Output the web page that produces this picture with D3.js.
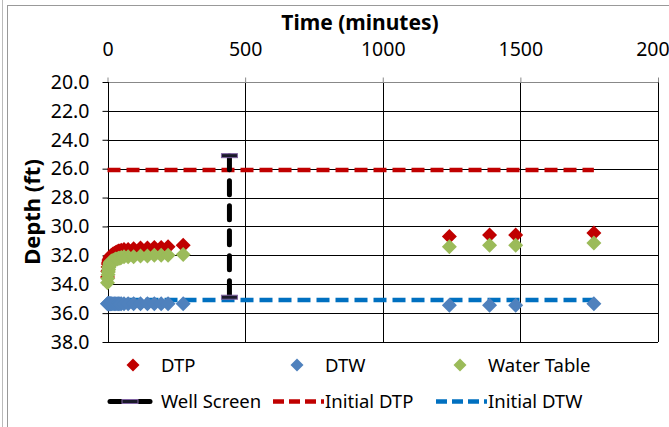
<!DOCTYPE html>
<html>
<head>
<meta charset="utf-8">
<script src="https://cdn.jsdelivr.net/npm/d3@7"></script>
<style>
  body { margin: 0; background: #fff; }
  text { font-family: "Noto Sans", sans-serif; fill: #000; }
</style>
</head>
<body>
<div id="chart"></div>
<script>
// early bail-down readings (minutes)
const earlyTimes = [0, 1, 2, 3, 4, 5, 6, 8, 10, 12, 15, 20, 25, 30, 35, 40, 45, 50, 60, 75, 95, 120, 145, 170, 195, 220, 275];
const earlyDTP = [33.5, 33.1, 32.8, 32.6, 32.5, 32.4, 32.3, 32.2, 32.1, 32.05, 32.0, 31.9, 31.85, 31.8, 31.75, 31.7, 31.7, 31.65, 31.6, 31.6, 31.55, 31.5, 31.5, 31.45, 31.45, 31.4, 31.3];
const earlyWT = [33.9, 33.6, 33.35, 33.15, 33.0, 32.85, 32.75, 32.6, 32.5, 32.45, 32.4, 32.35, 32.3, 32.25, 32.25, 32.2, 32.2, 32.15, 32.1, 32.1, 32.1, 32.05, 32.05, 32.0, 32.0, 32.0, 31.95];
const earlyDTW = [35.35, 35.35, 35.35, 35.35, 35.35, 35.35, 35.35, 35.35, 35.35, 35.35, 35.35, 35.35, 35.35, 35.35, 35.35, 35.35, 35.35, 35.35, 35.35, 35.35, 35.35, 35.35, 35.35, 35.35, 35.35, 35.35, 35.35];

// later readings
const lateTimes = [1242, 1388, 1483, 1767];
const lateDTP = [30.7, 30.6, 30.6, 30.45];
const lateWT = [31.4, 31.3, 31.3, 31.15];
const lateDTW = [35.45, 35.45, 35.45, 35.35];

const initialDTP = 26.1;
const initialDTW = 35.1;
const lineEnd = 1767;
const wellScreenTime = 443;
const wellScreen = [25.1, 34.9];

const xTicks = [0, 500, 1000, 1500, 2000];
const yTicks = [20, 22, 24, 26, 28, 30, 32, 34, 36, 38];

const times = earlyTimes.concat(lateTimes);
const dtp = earlyDTP.concat(lateDTP);
const wt = earlyWT.concat(lateWT);
const dtw = earlyDTW.concat(lateDTW);

const width = 669, height = 427;
const svg = d3.select("#chart").append("svg")
  .attr("width", width)
  .attr("height", height);

// outer chart border
svg.append("line").attr("x1", 2.5).attr("x2", 2.5).attr("y1", 0).attr("y2", height)
  .attr("stroke", "#bbb");
svg.append("rect").attr("x", 7.5).attr("y", 5.5).attr("width", 700).attr("height", 460)
  .attr("fill", "none").attr("stroke", "#999");

const x = d3.scaleLinear().domain([0, 2000]).range([107.5, 658]);
const y = d3.scaleLinear().domain([20, 38]).range([82, 342]);

// horizontal gridlines
svg.append("g")
  .selectAll("line")
  .data(yTicks.filter((d) => d > 20))
  .enter()
  .append("line")
  .attr("x1", x(0)).attr("x2", x(2000))
  .attr("y1", (d) => Math.round(y(d)) + 0.5)
  .attr("y2", (d) => Math.round(y(d)) + 0.5)
  .attr("stroke", "#000");

// vertical gridlines
svg.append("g")
  .selectAll("line")
  .data(xTicks.filter((d) => d > 0))
  .enter()
  .append("line")
  .attr("x1", (d) => Math.round(x(d)) + 0.5)
  .attr("x2", (d) => Math.round(x(d)) + 0.5)
  .attr("y1", y(20)).attr("y2", y(38))
  .attr("stroke", "#000");

// top x axis (gray)
const xAxis = svg.append("g")
  .attr("transform", "translate(0," + (Math.round(y(20)) + 0.5) + ")")
  .call(d3.axisTop(x).tickValues(xTicks).tickSize(5).tickPadding(22).tickFormat(d3.format("d")));
xAxis.selectAll("path, line").attr("stroke", "#888");
xAxis.select(".domain").attr("d", "M" + x(0) + ",0H" + x(2000));
xAxis.selectAll("text").attr("font-size", 19.5).style("font-family", "Noto Sans");

// left y axis
const yAxis = svg.append("g")
  .attr("transform", "translate(" + (Math.round(x(0)) + 0.5) + ",0)")
  .call(d3.axisLeft(y).tickValues(yTicks).tickSize(6).tickPadding(13).tickFormat(d3.format(".1f")));
yAxis.selectAll("path, line").attr("stroke", "#000");
yAxis.select(".domain").attr("d", "M0," + y(20) + "V" + y(38));
yAxis.selectAll("text").attr("font-size", 19.5).style("font-family", "Noto Sans");

// axis titles
svg.append("text")
  .attr("x", 360).attr("y", 30)
  .attr("text-anchor", "middle")
  .attr("font-size", 21).attr("font-weight", "bold")
  .text("Time (minutes)");

svg.append("text")
  .attr("transform", "translate(40,212) rotate(-90)")
  .attr("text-anchor", "middle")
  .attr("font-size", 22).attr("font-weight", "bold")
  .text("Depth (ft)");

// initial level lines
svg.append("line")
  .attr("x1", x(0)).attr("x2", x(lineEnd))
  .attr("y1", y(initialDTP)).attr("y2", y(initialDTP))
  .attr("stroke", "#C00000").attr("stroke-width", 4.5)
  .attr("stroke-dasharray", "13,6");

svg.append("line")
  .attr("x1", x(0)).attr("x2", x(lineEnd))
  .attr("y1", y(initialDTW)).attr("y2", y(initialDTW))
  .attr("stroke", "#0070C0").attr("stroke-width", 4.5)
  .attr("stroke-dasharray", "13,6");

// well screen
svg.append("line")
  .attr("x1", x(wellScreenTime)).attr("x2", x(wellScreenTime))
  .attr("y1", y(wellScreen[0])).attr("y2", y(wellScreen[1]))
  .attr("stroke", "#000").attr("stroke-width", 5)
  .attr("stroke-linecap", "round")
  .attr("stroke-dasharray", "14,11");

svg.append("g")
  .selectAll("rect")
  .data(wellScreen)
  .enter()
  .append("rect")
  .attr("x", x(wellScreenTime) - 8)
  .attr("y", (d) => y(d) - 2)
  .attr("width", 16).attr("height", 4)
  .attr("fill", "#1a1a2a")
  .attr("stroke", "#8064A2").attr("stroke-width", 1);

// diamond markers
const diamond = (r) => "M0," + -r + "L" + r + ",0L0," + r + "L" + -r + ",0Z";

const series = [
  { name: "DTP", values: dtp, color: "#C00000" },
  { name: "DTW", values: dtw, color: "#4F81BD" },
  { name: "Water Table", values: wt, color: "#9BBB59" },
];

series.forEach((s) => {
  svg.append("g")
    .selectAll("path")
    .data(times)
    .enter()
    .append("path")
    .attr("d", diamond(7.5))
    .attr("transform", (d, i) => "translate(" + x(d) + "," + y(s.values[i]) + ")")
    .attr("fill", s.color);
});

// legend
const legend = svg.append("g");
const row1 = [
  { label: "DTP", color: "#C00000", mx: 133, tx: 161 },
  { label: "DTW", color: "#4F81BD", mx: 297, tx: 325 },
  { label: "Water Table", color: "#9BBB59", mx: 460, tx: 488 },
];
row1.forEach((d) => {
  legend.append("path").attr("d", diamond(6.5))
    .attr("transform", "translate(" + d.mx + ",365)")
    .attr("fill", d.color);
  legend.append("text").attr("x", d.tx).attr("y", 371.5)
    .attr("font-size", 18.5).text(d.label);
});

// well screen legend symbol
legend.append("line").attr("x1", 110).attr("x2", 150).attr("y1", 401.5).attr("y2", 401.5)
  .attr("stroke", "#000").attr("stroke-width", 5).attr("stroke-linecap", "round");
legend.append("rect").attr("x", 122).attr("y", 399.5).attr("width", 16).attr("height", 4)
  .attr("fill", "#1a1a2a").attr("stroke", "#8064A2");
legend.append("text").attr("x", 161).attr("y", 408).attr("font-size", 18.5).text("Well Screen");

legend.append("line").attr("x1", 273).attr("x2", 324).attr("y1", 401.5).attr("y2", 401.5)
  .attr("stroke", "#C00000").attr("stroke-width", 4.5).attr("stroke-dasharray", "11,5");
legend.append("text").attr("x", 325).attr("y", 408).attr("font-size", 18.5).text("Initial DTP");

legend.append("line").attr("x1", 436).attr("x2", 487).attr("y1", 401.5).attr("y2", 401.5)
  .attr("stroke", "#0070C0").attr("stroke-width", 4.5).attr("stroke-dasharray", "11,5");
legend.append("text").attr("x", 488).attr("y", 408).attr("font-size", 18.5).text("Initial DTW");
</script>
</body>
</html>
